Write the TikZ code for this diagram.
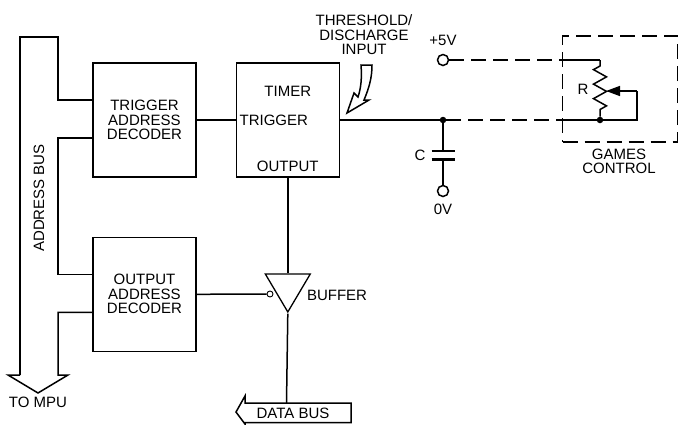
\documentclass[tikz,border=0pt]{standalone}
\usepackage{fontspec}
\setmainfont{Liberation Sans}
\usepackage{tikz}
\usetikzlibrary{shapes,arrows.meta,positioning,calc,decorations.pathmorphing,shapes.geometric}

\begin{document}
\begin{tikzpicture}[
    x=1pt, y=-1pt,
    caption/.style={font=\fontsize{15}{14.5}\selectfont, align=center, inner sep=0pt},
    block/.style={rectangle, draw, line width=1.3pt, minimum width=103pt, minimum height=114pt, inner sep=0pt, caption},
    wire/.style={line width=1.5pt},
    broken/.style={wire, dash pattern=on 15pt off 7pt},
    dot/.style={circle, fill=black, minimum size=6.5pt, inner sep=0pt},
    terminal/.style={circle, draw, wire, fill=white, minimum size=11pt, inner sep=0pt},
    buffer/.style={isosceles triangle, isosceles triangle stretches, shape border rotate=-90, draw, line width=1.3pt, minimum width=45pt, minimum height=38pt, inner sep=0pt}
]
    \useasboundingbox (0,0) rectangle (679,424);

    % Blocks
    \node[block] (trigdec) at (144.5,120) {TRIGGER\\ADDRESS\\DECODER};
    \node[block, right=39pt of trigdec] (timer) {};
    \node[block, below=59pt of trigdec] (outdec) {OUTPUT\\ADDRESS\\DECODER};
    \node[caption] (timertxt) at ($(timer)+(0,-29)$) {TIMER};
    \node[caption] (trigtxt) at ($(timer)+(-14,0)$) {TRIGGER};
    \node[caption] (outtxt) at ($(timer)+(0,46)$) {OUTPUT};

    % Address bus
    \coordinate (busnw) at (20,37);
    \coordinate (busne) at (58,37);
    \coordinate (trigup) at ($(trigdec.west)+(0,-20)$);
    \coordinate (trigdn) at ($(trigdec.west)+(0,18)$);
    \coordinate (outup) at ($(outdec.west)+(0,-20)$);
    \coordinate (outdn) at ($(outdec.west)+(0,18)$);
    \coordinate (busr) at (58,375);
    \coordinate (busl) at (20,375);
    \coordinate (bustip) at (38,393);
    \draw[wire] (busl) -- (busnw) -- (busne) |- (trigup);
    \draw[wire] (trigdn) -| (busne |- outup) -- (outup);
    \draw[wire] (outdn) -| (busr) -- (68,375) -- (bustip) -- (8,375) -- (busl);
    \node[caption, rotate=90] (buslbl) at (39,198) {ADDRESS BUS};
    \node[caption] (mpu) at (38,402) {TO MPU};

    % Buffer and data bus
    \node[buffer, below=136pt of timer.south, anchor=apex] (buf) {};
    \node[caption] (bufferlbl) at (337,295) {BUFFER};
    \node[circle, draw, fill=white, minimum size=6pt, inner sep=0pt, line width=0.9pt] (bubble) at (270,294) {};
    \node[caption] (databus) at (293,413) {DATA BUS};
    \coordinate (bustop) at (286.5,403);
    \draw[wire] (351,403) -- (245,403) -- (245,396) -- (236,412) -- (245,424) -- (245,422.5) -- (351,422.5) -- cycle;

    % Connections
    \draw[wire] (trigdec.east) -- (timer.west);
    \draw[wire] (timer.south) -- (buf.lower side);
    \draw[wire] (buf.apex) -- (bustop);
    \draw[wire] (outdec.east) -- (bubble.west);

    % Threshold input
    \node[caption] (thresh) at (364,35) {\fontsize{15}{15}\selectfont THRESHOLD/\\DISCHARGE\\INPUT};
    \draw[wire, fill=white] (361,65) .. controls (362,78) and (361,88) .. (358,97) -- (354,93) -- (347,113) -- (369,100) -- (364,100) .. controls (369,88) and (372,78) .. (372,65) -- cycle;

    % Games control
    \node[rectangle, draw, broken, minimum width=115pt, minimum height=106pt] (games) at (620,89) {};
    \node[caption] (gamestxt) at (619,161.5) {GAMES\\CONTROL};
    \node[terminal] (plus) at (443,60) {};
    \node[caption, above=8pt of plus] (plustxt) {+5V};
    \node[dot] (junc) at (443,120) {};
    \node[dot] (rbot) at (600,120) {};
    \coordinate (rtop) at (600,60);
    \coordinate (wipetip) at (606,91);
    \coordinate (wipecor) at (637,91);
    \node[caption] (rtxt) at (583,89) {R};
    \draw[broken] (plus.east) -- (plus -| games.west);
    \draw[wire] (plus -| games.west) -- (rtop);
    \draw[wire, decorate, decoration={zigzag, mirror, segment length=14.5pt, amplitude=6.5pt, pre length=6pt, post length=3pt}] (rtop) -- (rbot);
    \draw[wire] (timer.east |- junc) -- (junc);
    \draw[broken] (junc) -- (junc -| games.west);
    \draw[wire] (junc -| games.west) -- (rbot) -| (wipecor);
    \draw[wire, -{Triangle[length=14pt,width=10pt]}] (wipecor) -- (wipetip);

    % Capacitor
    \coordinate (platea) at (443,151);
    \coordinate (plateb) at (443,159.5);
    \node[terminal] (zero) at (443,191) {};
    \node[caption, below=7pt of zero] (zerotxt) {0V};
    \node[caption] (ctxt) at (420,155) {C};
    \draw[wire] (junc) -- (platea);
    \draw[wire] (plateb) -- (zero.north);
    \draw[line width=2.4pt] ($(platea)+(-11.5,0)$) -- ($(platea)+(11.5,0)$);
    \draw[line width=2.4pt] ($(plateb)+(-11.5,0)$) -- ($(plateb)+(11.5,0)$);
\end{tikzpicture}
\end{document}
